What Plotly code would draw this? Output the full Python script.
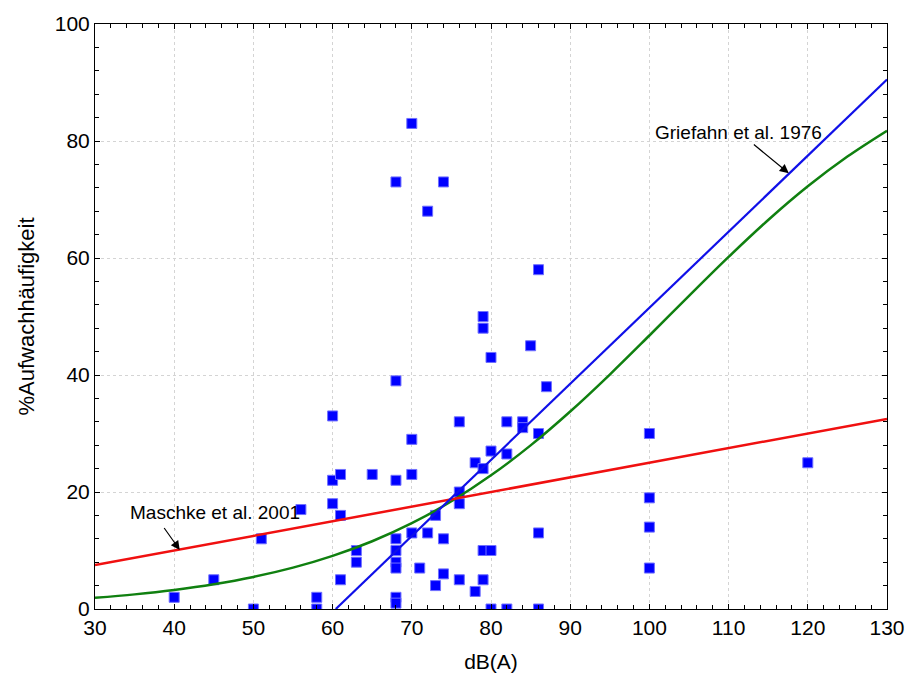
import plotly.graph_objects as go

# scatter data (dB(A), % awakenings)
pts_x = [40, 45, 50, 51, 56, 58, 58,
         60, 60, 60, 61, 61, 61,
         63, 63, 65,
         68, 68, 68, 68, 68, 68, 68, 68, 68,
         70, 70, 70, 70, 71, 72, 72, 73, 73, 74, 74, 74,
         76, 76, 76, 76, 78, 78,
         79, 79, 79, 79, 79,
         80, 80, 80, 80,
         82, 82, 82, 84, 84, 85,
         86, 86, 86, 86, 87,
         100, 100, 100, 100, 120]
pts_y = [2, 5, 0, 12, 17, 2, 0,
         33, 22, 18, 23, 16, 5,
         10, 8, 23,
         73, 39, 22, 12, 10, 8, 7, 2, 1,
         83, 29, 23, 13, 7, 68, 13, 16, 4, 73, 12, 6,
         32, 20, 18, 5, 25, 3,
         50, 48, 24, 10, 5,
         43, 27, 10, 0,
         32, 26.5, 0, 32, 31, 45,
         58, 30, 13, 0, 38,
         30, 19, 14, 7, 25]

# Griefahn et al. 1976 (blue line)
griefahn_x = [60.4, 130]
griefahn_y = [0, 90.5]

# Maschke et al. 2001 (red line)
maschke_x = [30, 130]
maschke_y = [7.5, 32.5]

# green curve
green_x = [30, 35, 40, 45, 50, 55, 60, 65, 70, 75, 80, 85, 90, 95, 100,
           105, 110, 115, 120, 125, 130]
green_y = [1.91, 2.50, 3.26, 4.23, 5.48, 7.07, 9.08, 11.58, 14.66, 18.41,
           22.85, 27.97, 33.76, 40.08, 46.75, 53.52, 60.18, 66.49, 72.25,
           77.34, 81.76]

FONT = "Liberation Sans, Arial, sans-serif"

fig = go.Figure()
fig.add_trace(go.Scatter(x=pts_x, y=pts_y, mode="markers",
                         marker=dict(symbol="square", size=10, color="#0000ff",
                                     line=dict(color="#7070ff", width=1)),
                         showlegend=False))
fig.add_trace(go.Scatter(x=green_x, y=green_y, mode="lines", line_shape="spline",
                         line=dict(color="#108010", width=2.5), showlegend=False))
fig.add_trace(go.Scatter(x=maschke_x, y=maschke_y, mode="lines",
                         line=dict(color="#f01010", width=2.5), showlegend=False))
fig.add_trace(go.Scatter(x=griefahn_x, y=griefahn_y, mode="lines",
                         line=dict(color="#1010e8", width=2.2), showlegend=False))

# labels
fig.add_annotation(x=111.2, y=81.4, text="Griefahn et al. 1976", showarrow=False,
                   font=dict(family=FONT, size=19, color="black"))
fig.add_annotation(x=45.2, y=16.5, text="Maschke et al. 2001", showarrow=False,
                   font=dict(family=FONT, size=19, color="black"))
# arrows
fig.add_annotation(x=117.6, y=74.5, ax=113.0, ay=79.6, axref="x", ayref="y",
                   text="", showarrow=True, arrowhead=2, arrowsize=1.5,
                   arrowwidth=1.2, arrowcolor="black")
fig.add_annotation(x=40.7, y=10.1, ax=38.6, ay=14.1, axref="x", ayref="y",
                   text="", showarrow=True, arrowhead=2, arrowsize=1.5,
                   arrowwidth=1.2, arrowcolor="black")

axis_common = dict(showline=True, linecolor="black", linewidth=1, mirror="ticks",
                   ticks="inside", ticklen=5, tickcolor="black",
                   showgrid=True, gridcolor="#d4d4d4", griddash="dot", gridwidth=1,
                   zeroline=False, automargin=False,
                   tickfont=dict(family=FONT, size=21, color="black"))

fig.update_xaxes(range=[30, 130], dtick=10, tick0=30,
                 minor=dict(dtick=2, ticks="inside", ticklen=4, tickcolor="black", showgrid=False),
                 title=dict(text="dB(A)", font=dict(family=FONT, size=21, color="black"), standoff=16),
                 **axis_common)
fig.update_yaxes(range=[0, 100], dtick=20, tick0=0,
                 minor=dict(dtick=4, ticks="inside", ticklen=4, tickcolor="black", showgrid=False),
                 title=dict(text="%Aufwachhäufigkeit", font=dict(family=FONT, size=22, color="black"), standoff=14),
                 **axis_common)

fig.update_layout(width=906, height=679,
                  margin=dict(l=95, r=19, t=24, b=70),
                  plot_bgcolor="white", paper_bgcolor="white",
                  font=dict(family=FONT, color="black"))

fig.write_html("out.html")
